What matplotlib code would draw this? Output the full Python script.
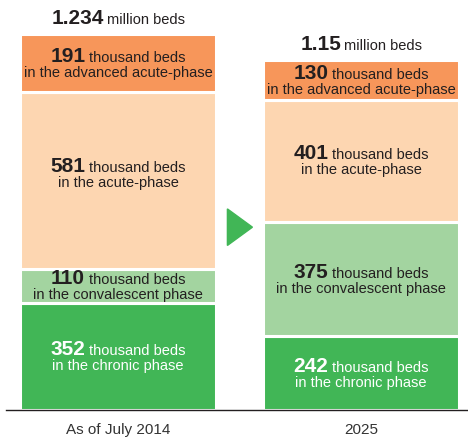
import matplotlib
matplotlib.use("Agg")
import matplotlib.pyplot as plt
from matplotlib.offsetbox import TextArea, HPacker, VPacker, AnnotationBbox
from matplotlib.patches import Polygon

plt.rcParams['font.family'] = ['Liberation Sans', 'DejaVu Sans']

# beds, thousands, stacked from the bottom
periods = ['As of July 2014', '2025']
phases = ['in the chronic phase', 'in the convalescent phase',
          'in the acute-phase', 'in the advanced acute-phase']
beds_2014 = [352, 110, 581, 191]
beds_2025 = [242, 375, 401, 130]
totals = ['1.234', '1.15']

colors = ['#41b656', '#a3d4a0', '#fdd6b1', '#f7965a']
text_colors = ['white', '#231f20', '#231f20', '#231f20']
dark = '#231f20'

fig = plt.figure(figsize=(4.68, 4.37), dpi=100)
ax = fig.add_axes([6 / 468, 27 / 437, 462 / 468, 376 / 437])

width = 0.81
for i, vals in enumerate([beds_2014, beds_2025]):
    bottom = 0
    for j, v in enumerate(vals):
        ax.bar(i, v, width=width, bottom=bottom, color=colors[j],
               edgecolor='white', linewidth=2.2, zorder=2)
        # value label: big number + unit, phase name below
        num = TextArea(str(v), textprops=dict(fontsize=15, fontweight='bold',
                                              color=text_colors[j]))
        unit = TextArea('thousand beds', textprops=dict(fontsize=10.5,
                                                        color=text_colors[j]))
        line1 = HPacker(children=[num, unit], align='baseline', pad=0, sep=3)
        line2 = TextArea(phases[j], textprops=dict(fontsize=10.5,
                                                   color=text_colors[j]))
        box = VPacker(children=[line1, line2], align='center', pad=0, sep=0)
        dy = 5 if (i == 0 and j == 2) else 0
        ab = AnnotationBbox(box, (i, bottom + v / 2), xybox=(0, dy),
                            boxcoords='offset points', frameon=False,
                            box_alignment=(0.5, 0.5), zorder=4)
        ax.add_artist(ab)
        bottom += v

    # total above the bar
    big = TextArea(totals[i], textprops=dict(fontsize=15, fontweight='bold',
                                             color=dark))
    small = TextArea('million beds', textprops=dict(fontsize=10.5, color=dark))
    head = HPacker(children=[big, small], align='baseline', pad=0, sep=2)
    ab = AnnotationBbox(head, (i, bottom), xybox=(0, 4.5),
                        boxcoords='offset points', frameon=False,
                        box_alignment=(0.5, 0), annotation_clip=False)
    ax.add_artist(ab)

# arrow between the two bars
ax.add_patch(Polygon([(0.45, 540), (0.45, 660), (0.553, 600)],
                     closed=True, color='#41b656', zorder=3))

ax.axhline(0, color=dark, linewidth=1, zorder=5, clip_on=False)

ax.set_xlim(-0.461, 1.44)
ax.set_ylim(0, 1234)
ax.set_xticks([0, 1])
ax.set_xticklabels(periods, fontsize=11, color='#333333')
ax.tick_params(axis='x', length=0, pad=9.5)
ax.set_yticks([])
for s in ax.spines.values():
    s.set_visible(False)

fig.savefig('out.png', dpi=100)
